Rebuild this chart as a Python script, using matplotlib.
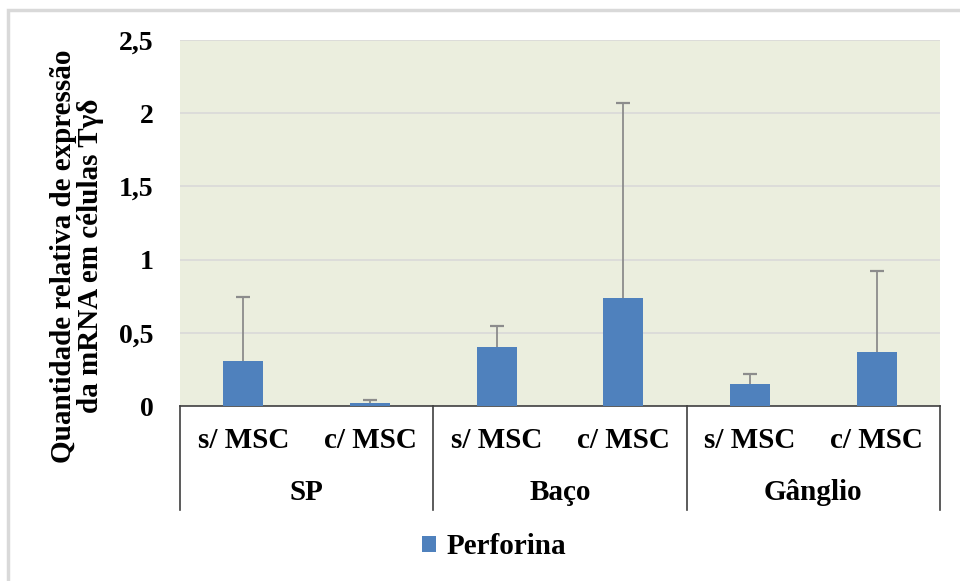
import matplotlib.pyplot as plt
import numpy as np
from matplotlib.patches import Rectangle

# expressão relativa de perforina (média e desvio superior)
grupos = ['SP', 'Baço', 'Gânglio']
condicoes = ['s/ MSC', 'c/ MSC']
perforina = [0.31, 0.023, 0.40, 0.74, 0.152, 0.372]
erro_sup = [0.437, 0.02, 0.145, 1.33, 0.068, 0.548]
yticks = [0, 0.5, 1, 1.5, 2, 2.5]
ytick_labels = ['0', '0,5', '1', '1,5', '2', '2,5']

cor_barra = '#4F81BD'
cor_fundo = '#EBEEDE'
cor_erro = '#8C8C8C'


def main():
    plt.rcParams['font.family'] = ['Liberation Serif', 'DejaVu Serif']
    plt.rcParams['font.weight'] = 'bold'

    fig = plt.figure(figsize=(9.6, 5.81), dpi=100)
    fig.patches.append(Rectangle((8 / 960, -0.1), 1.2, 1.1 - 10 / 581, transform=fig.transFigure,
                                 fill=False, edgecolor='#D9D9D9', linewidth=2.5))
    ax = fig.add_axes([180 / 960, 175 / 581, 760 / 960, 366 / 581])
    ax.set_facecolor(cor_fundo)

    x = np.arange(len(perforina))
    media = np.array(perforina)
    topo = media + np.array(erro_sup)
    ax.bar(x, media, width=0.316, color=cor_barra, zorder=3, label='Perforina')
    # só a metade de cima do erro, com traço no topo
    ax.vlines(x, media, topo, color=cor_erro, linewidth=1.3, zorder=2)
    ax.plot(x, topo, linestyle='none', marker='_', markersize=10, markeredgewidth=1.6,
            color=cor_erro, zorder=2)

    ax.set_xlim(-0.5, len(perforina) - 0.5)
    ax.set_ylim(0, 2.5)
    ax.set_yticks(yticks)
    ax.set_yticklabels(ytick_labels, fontsize=20, fontweight='bold')
    ax.tick_params(axis='y', length=0, pad=19)
    ax.set_xticks([])
    ax.yaxis.grid(True, color='#D9D9D9', linewidth=1.2, zorder=0)
    for s in ['top', 'right', 'left']:
        ax.spines[s].set_visible(False)
    ax.spines['bottom'].set_color('#404040')
    ax.spines['bottom'].set_linewidth(1.2)

    # eixo x em dois níveis
    trans = ax.get_xaxis_transform()
    for i in x:
        ax.text(i, -0.093, condicoes[i % 2], transform=trans, ha='center', va='center',
                fontsize=21, fontweight='bold')
    for g, nome in enumerate(grupos):
        ax.text(2 * g + 0.5, -0.235, nome, transform=trans, ha='center', va='center',
                fontsize=21, fontweight='bold')
    for xs in [-0.5, 1.5, 3.5, 5.5]:
        ax.plot([xs, xs], [0, -0.284], transform=trans, color='#404040', linewidth=1.2,
                clip_on=False)

    ax.set_ylabel('Quantidade relativa de expressão\nda mRNA em células Tγδ',
                  fontsize=21, fontweight='bold', linespacing=1.0)
    ax.yaxis.set_label_coords(-0.1, 0.41)

    fig.legend(loc='center', bbox_to_anchor=(494 / 960, 1 - 547 / 581), frameon=False,
               prop={'size': 21, 'weight': 'bold'}, handlelength=0.5, handleheight=0.5,
               handletextpad=0.35)

    fig.savefig('out.png', dpi=100)


if __name__ == "__main__":
    main()
